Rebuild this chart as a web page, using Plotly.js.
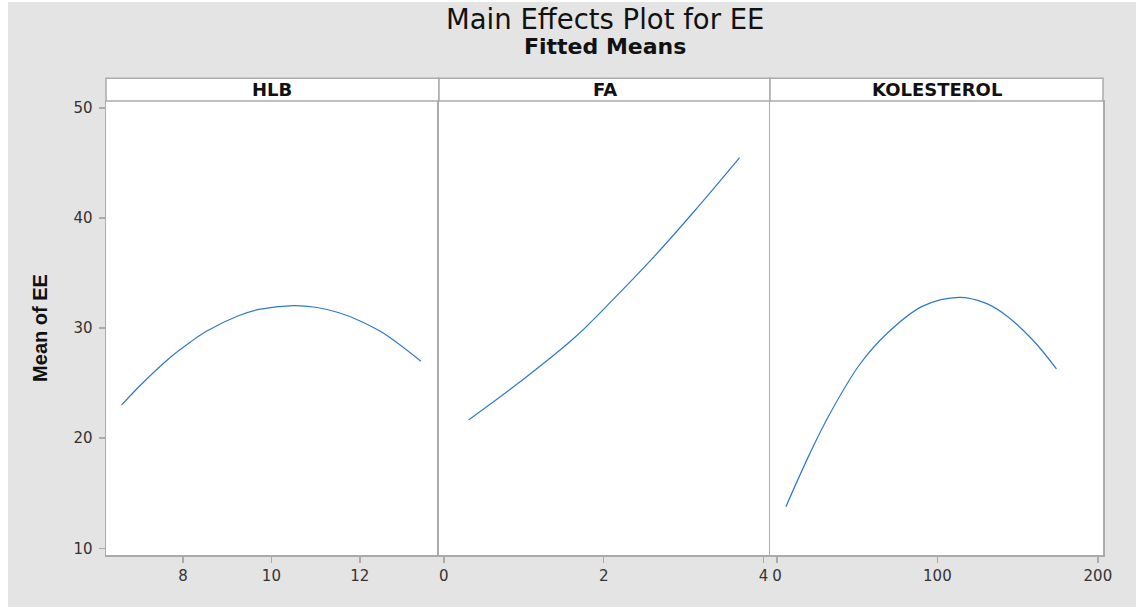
<!DOCTYPE html>
<html>
<head>
<meta charset="utf-8">
<script src="https://cdn.plot.ly/plotly-3.0.1.min.js"></script>
<style>
  html, body { margin: 0; padding: 0; background: #ffffff; }
  #chart { position: absolute; left: 8px; top: 2px; width: 1128px; height: 605px; }
</style>
</head>
<body>
<div id="chart"></div>
<script>
// ---- data ----
const panelNames = ["HLB", "FA", "KOLESTEROL"];

const hlbX = [6.61, 7.01, 7.73, 8.14, 8.52, 9.27, 9.72, 10.48, 11.0, 11.53, 11.98, 12.51, 13.38];
const hlbY = [23.0, 24.7, 27.4, 28.65, 29.7, 31.15, 31.7, 32.05, 31.9, 31.4, 30.7, 29.6, 27.0];

const faX = [0.31, 0.95, 1.63, 2.13, 2.63, 3.13, 3.70];
const faY = [21.66, 25.1, 29.1, 32.7, 36.5, 40.6, 45.5];

const kolX = [5.6, 20.5, 32.9, 51.6, 68.1, 90.9, 113.7, 129.6, 140.6, 159.3, 174.2];
const kolY = [13.78, 18.6, 22.2, 26.7, 29.45, 32.0, 32.8, 32.3, 31.4, 28.95, 26.3];

const hlbTicks = [8, 10, 12];
const faTicks = [0, 2, 4];
const kolTicks = [0, 100, 200];
const yTicks = [10, 20, 30, 40, 50];

const titleText = "Main Effects Plot for EE";
const subtitleText = "Fitted Means";
const yTitle = "Mean of EE";

// ---- styling ----
const lineColor = "#2e78cf";
const frameColor = "#ababab";
const bg = "#e4e4e4";
const tickFont = { family: "DejaVu Sans, Arial, sans-serif", size: 15, color: "#333333" };

const xs = [hlbX, faX, kolX];
const ys = [hlbY, faY, kolY];
const traces = xs.map((x, i) => ({
  x: x, y: ys[i], type: "scatter", mode: "lines",
  line: { color: lineColor, width: 1.2, shape: "spline", smoothing: 1.0 },
  xaxis: i === 0 ? "x" : "x" + (i + 1),
  yaxis: i === 0 ? "y" : "y" + (i + 1),
  hoverinfo: "skip", showlegend: false
}));

const domains = [[0, 0.334], [0.334, 0.666], [0.666, 1]];
const xRanges = [[6.26, 13.79], [-0.06, 4.08], [-4.3, 203.2]];
const xTickSets = [hlbTicks, faTicks, kolTicks];
const yRange = [9.39, 50.64];

const layout = {
  width: 1128, height: 605,
  paper_bgcolor: bg, plot_bgcolor: "#ffffff",
  margin: { l: 98, r: 33, t: 98.7, b: 52 },
  showlegend: false,
  shapes: [], annotations: []
};

const plotH = 605 - 98.7 - 52;
const stripTop = 1 + 22.7 / plotH;

for (let i = 0; i < 3; i++) {
  const xk = i === 0 ? "xaxis" : "xaxis" + (i + 1);
  const yk = i === 0 ? "yaxis" : "yaxis" + (i + 1);
  layout[xk] = {
    domain: domains[i], range: xRanges[i], anchor: i === 0 ? "y" : "y" + (i + 1),
    tickmode: "array", tickvals: xTickSets[i], ticktext: xTickSets[i].map(String),
    ticks: "outside", ticklen: 6, tickwidth: 1.5, tickcolor: frameColor,
    showline: true, linecolor: frameColor, linewidth: 1.5, mirror: true,
    showgrid: false, zeroline: false, tickfont: tickFont, fixedrange: true
  };
  layout[yk] = {
    domain: [0, 1], range: yRange, anchor: i === 0 ? "x" : "x" + (i + 1),
    tickmode: "array", tickvals: yTicks, ticktext: yTicks.map(String),
    ticks: i === 0 ? "outside" : "", ticklen: 6, tickwidth: 1.5, tickcolor: frameColor,
    showticklabels: i === 0, ticklabelstandoff: 3,
    showline: true, linecolor: frameColor, linewidth: 1.5, mirror: i === 2,
    showgrid: false, zeroline: false, tickfont: tickFont, fixedrange: true
  };
  layout.shapes.push({
    type: "rect", xref: "paper", yref: "paper",
    x0: domains[i][0], x1: domains[i][1], y0: 1, y1: stripTop,
    fillcolor: "#ffffff", line: { color: frameColor, width: 1.5 }
  });
  layout.annotations.push({
    xref: "paper", yref: "paper", x: (domains[i][0] + domains[i][1]) / 2,
    y: (1 + stripTop) / 2, yanchor: "middle", xanchor: "center", showarrow: false,
    text: "<b>" + panelNames[i] + "</b>",
    font: { family: "DejaVu Sans, Verdana, sans-serif", size: 18, color: "#111111" }
  });
}

layout.yaxis.title = {
  text: "<b>" + yTitle + "</b>", standoff: 20,
  font: { family: "Liberation Sans, Arial, sans-serif", size: 20, color: "#111111" }
};

layout.annotations.push({
  xref: "paper", yref: "paper", x: 0.5, y: 1, yshift: 82, xanchor: "center", yanchor: "middle",
  showarrow: false, text: titleText,
  font: { family: "DejaVu Sans, Verdana, sans-serif", size: 27.5, color: "#111111" }
});
layout.annotations.push({
  xref: "paper", yref: "paper", x: 0.5, y: 1, yshift: 55, xanchor: "center", yanchor: "middle",
  showarrow: false, text: "<b>" + subtitleText + "</b>",
  font: { family: "DejaVu Sans, Verdana, sans-serif", size: 22, color: "#111111" }
});

Plotly.newPlot("chart", traces, layout, { staticPlot: true, displayModeBar: false });
</script>
</body>
</html>
